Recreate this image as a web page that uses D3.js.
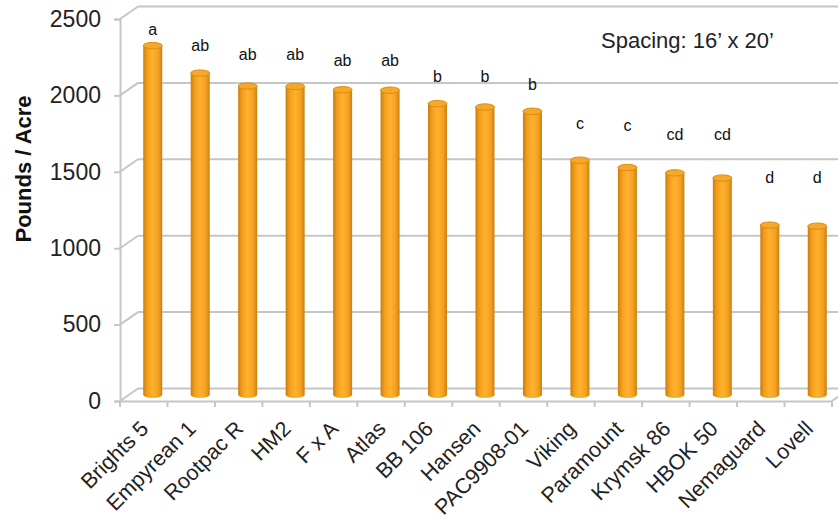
<!DOCTYPE html>
<html>
<head>
<meta charset="utf-8">
<script src="https://cdn.jsdelivr.net/npm/d3@7"></script>
<style>
  body { margin: 0; background: #fff; }
  svg text { font-family: Arial, "Liberation Sans", sans-serif; }
</style>
</head>
<body>
<div id="chart"></div>
<script>
// rootstock yields, pounds per acre
const categories = ['Brights 5', 'Empyrean 1', 'Rootpac R', 'HM2', 'F x A', 'Atlas', 'BB 106',
    'Hansen', 'PAC9908-01', 'Viking', 'Paramount', 'Krymsk 86', 'HBOK 50', 'Nemaguard', 'Lovell'];
const yields = [2285, 2105, 2020, 2018, 1996, 1993, 1905, 1883, 1855, 1535, 1487, 1452, 1418, 1110, 1103];
// significance letters and the height (in lb/acre) where each one sits
const letters = ['a', 'ab', 'ab', 'ab', 'ab', 'ab', 'b', 'b', 'b', 'c', 'c', 'cd', 'cd', 'd', 'd'];
const letterLevel = [2394, 2289, 2228, 2228, 2186, 2186, 2086, 2086, 2034, 1778, 1765, 1706, 1706, 1425, 1425];
const yTicks = [0, 500, 1000, 1500, 2000, 2500];

const width = 838, height = 523;
const plot = { left: 120, right: 832, bottom: 401, top: 19 };
const depth = { dx: 18, dy: -12.5 };   // offset of the back wall
const gridColor = '#c6c6c6';

const svg = d3.select('#chart').append('svg')
    .attr('width', width)
    .attr('height', height);

const x = d3.scaleBand().domain(categories).range([plot.left, plot.right]).padding(0);
const y = d3.scaleLinear().domain([0, 2500]).range([plot.bottom, plot.top]);

// cylinder shading
const grad = svg.append('defs').append('linearGradient').attr('id', 'cyl');
[['0%', '#c97d0c'], ['20%', '#f29d1c'], ['50%', '#ffb22e'], ['80%', '#f4a020'], ['100%', '#c98010']]
    .forEach(([o, c]) => grad.append('stop').attr('offset', o).attr('stop-color', c));

// back wall gridlines + side wall diagonals
const grid = svg.append('g').attr('stroke', gridColor).attr('stroke-width', 2).attr('fill', 'none');
yTicks.forEach(t => {
    grid.append('line')
        .attr('x1', plot.left + depth.dx).attr('x2', width + 10)
        .attr('y1', y(t) + depth.dy).attr('y2', y(t) + depth.dy);
    grid.append('line')
        .attr('x1', plot.left).attr('x2', plot.left + depth.dx)
        .attr('y1', y(t)).attr('y2', y(t) + depth.dy);
});
// right edge of floor
grid.append('line')
    .attr('x1', plot.right).attr('x2', plot.right + depth.dx)
    .attr('y1', plot.bottom).attr('y2', plot.bottom + depth.dy);

// y axis (front)
const yAxis = svg.append('g')
    .attr('transform', `translate(${plot.left},0)`)
    .call(d3.axisLeft(y).tickValues(yTicks).tickFormat(d3.format('d')).tickSize(6).tickPadding(13));
yAxis.select('.domain').attr('stroke', gridColor).attr('stroke-width', 2);
yAxis.selectAll('.tick line').attr('stroke', gridColor).attr('stroke-width', 2);
yAxis.selectAll('.tick text')
    .style('font-size', '23px').attr('fill', '#222');

// x axis (front floor edge)
const xAxis = svg.append('g')
    .attr('transform', `translate(0,${plot.bottom})`)
    .call(d3.axisBottom(x).tickSize(0).tickFormat(''));
xAxis.select('.domain').attr('stroke', gridColor).attr('stroke-width', 2);
xAxis.selectAll('.tick').remove();
xAxis.selectAll('.sep')
    .data(d3.range(categories.length + 1))
    .enter().append('line')
    .attr('x1', i => plot.left + i * x.step()).attr('x2', i => plot.left + i * x.step())
    .attr('y1', 0).attr('y2', 6)
    .attr('stroke', gridColor).attr('stroke-width', 2);

// category labels
svg.append('g').selectAll('text')
    .data(categories)
    .enter().append('text')
    .attr('transform', d => `translate(${x(d) + x.bandwidth() / 2 + 6},${plot.bottom + 29}) rotate(-45)`)
    .attr('text-anchor', 'end')
    .style('font-size', '21.5px')
    .attr('fill', '#222')
    .text(d => d);

// bars sit halfway into the depth
const mid = { dx: depth.dx / 2, dy: depth.dy / 2 };
const r = 9.5, ry = 3.2;
const cx = d => x(d) + x.bandwidth() / 2 + mid.dx;
const ym = v => y(v) + mid.dy;

const bars = svg.append('g').selectAll('g')
    .data(categories.map((c, i) => ({ c, v: yields[i] })))
    .enter().append('g');

bars.append('ellipse')
    .attr('cx', d => cx(d.c)).attr('cy', ym(0))
    .attr('rx', r).attr('ry', ry)
    .attr('fill', 'url(#cyl)');
bars.append('rect')
    .attr('x', d => cx(d.c) - r)
    .attr('y', d => ym(d.v))
    .attr('width', r * 2)
    .attr('height', d => ym(0) - ym(d.v))
    .attr('fill', 'url(#cyl)');
bars.append('ellipse')
    .attr('cx', d => cx(d.c)).attr('cy', d => ym(d.v))
    .attr('rx', r).attr('ry', ry)
    .attr('fill', '#f7a82a')
    .attr('stroke', '#d98d16')
    .attr('stroke-width', 1);

// significance letters
svg.append('g').selectAll('text')
    .data(letters)
    .enter().append('text')
    .attr('x', (d, i) => cx(categories[i]))
    .attr('y', (d, i) => ym(letterLevel[i]))
    .attr('dy', '0.35em')
    .attr('text-anchor', 'middle')
    .style('font-size', '16px')
    .attr('fill', '#111')
    .text(d => d);

// axis title
svg.append('text')
    .attr('transform', 'translate(31,169) rotate(-90)')
    .attr('text-anchor', 'middle')
    .style('font-size', '22px')
    .style('font-weight', 'bold')
    .attr('fill', '#111')
    .text('Pounds / Acre');

// spacing note
svg.append('text')
    .attr('x', 601).attr('y', 48)
    .style('font-size', '22px')
    .attr('fill', '#222')
    .text('Spacing: 16’ x 20’');
</script>
</body>
</html>
